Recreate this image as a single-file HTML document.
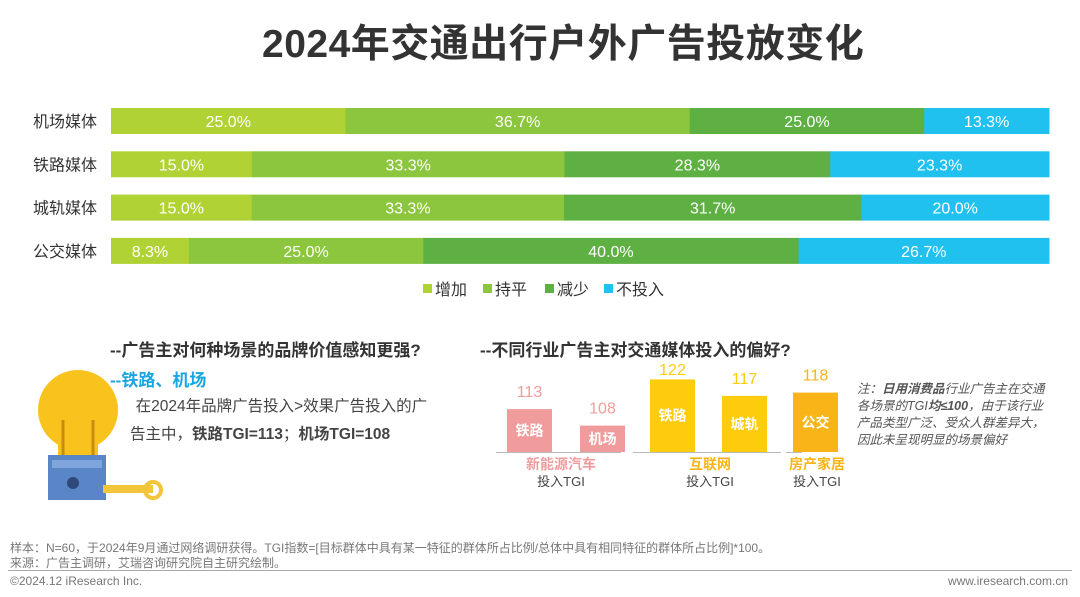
<!DOCTYPE html>
<html><head><meta charset="utf-8"><style>
body{margin:0;width:1080px;height:597px;background:#fff;font-family:"Liberation Sans","Noto Sans CJK SC",sans-serif;position:relative;overflow:hidden}
.a{position:absolute;white-space:nowrap}
</style></head><body>
<div class="a" style="left:262px;top:13px;font-size:39px;font-weight:bold;color:#333;letter-spacing:0.5px">2024年交通出行户外广告投放变化</div>
<svg id="main" class="a" style="left:0;top:0" width="1080" height="310"></svg>
<svg id="tgi" class="a" style="left:0;top:0" width="1080" height="597"></svg>
<div class="a" style="left:110px;top:336px;font-size:17px;font-weight:bold;color:#333">--广告主对何种场景的品牌价值感知更强?</div>
<div class="a" style="left:110px;top:366px;font-size:17px;font-weight:bold;color:#1aa6e0">--铁路、机场</div>
<div class="a" style="left:113px;top:393px;font-size:15.5px;color:#444;line-height:28px">•&nbsp;&nbsp;&nbsp;&nbsp;在2024年品牌广告投入&gt;效果广告投入的广<br><span style="padding-left:17px">告主中，<b>铁路TGI=113</b>；<b>机场TGI=108</b></span></div>
<div class="a" style="left:480px;top:336px;font-size:17px;font-weight:bold;color:#333">--不同行业广告主对交通媒体投入的偏好?</div>
<div class="a" style="left:857px;top:381px;font-size:12.5px;font-style:italic;color:#555;line-height:17px">注：<b>日用消费品</b>行业广告主在交通<br>各场景的TGI<b>均≤100</b>，由于该行业<br>产品类型广泛、受众人群差异大，<br>因此未呈现明显的场景偏好</div>
<svg class="a" style="left:18px;top:360px" width="160" height="150">
<circle cx="60" cy="50" r="40" fill="#f7c31c"/><rect x="40" y="75" width="40" height="40" fill="#f7c31c"/>
<path d="M45 95 V60 M75 95 V60" stroke="#c98b12" stroke-width="3" fill="none"/>
<rect x="30" y="95" width="58" height="45" fill="#5a86c7"/><rect x="34" y="100" width="50" height="8" fill="#7fa6dc"/>
<circle cx="55" cy="123" r="6" fill="#2d4a7a"/>
<rect x="85" y="125" width="50" height="8" fill="#f3c53a"/><circle cx="135" cy="130" r="8" fill="none" stroke="#f3c53a" stroke-width="4"/>
</svg>
<div class="a" style="left:10px;top:541px;font-size:12px;color:#777;line-height:15px">样本：N=60，于2024年9月通过网络调研获得。TGI指数=[目标群体中具有某一特征的群体所占比例/总体中具有相同特征的群体所占比例]*100。<br>来源：广告主调研，艾瑞咨询研究院自主研究绘制。</div>
<div class="a" style="left:8px;top:570px;width:1064px;border-top:1px solid #aaa"></div>
<div class="a" style="left:10px;top:574px;font-size:12px;color:#777">©2024.12 iResearch Inc.</div>
<div class="a" style="right:12px;top:574px;font-size:12px;color:#777">www.iresearch.com.cn</div>
<script>
const categories=["机场媒体","铁路媒体","城轨媒体","公交媒体"];
const seriesNames=["增加","持平","减少","不投入"];
const sIncrease=[25.0,15.0,15.0,8.3];
const sFlat=[36.7,33.3,33.3,25.0];
const sDecrease=[25.0,28.3,31.7,40.0];
const sNone=[13.3,23.3,20.0,26.7];
const tgiLabels=["铁路","机场","铁路","城轨","公交"];
const tgiValues=[113,108,122,117,118];
const NS="http://www.w3.org/2000/svg";
function mk(p,t,a){const e=document.createElementNS(NS,t);for(const k in a)e.setAttribute(k,a[k]);p.appendChild(e);return e;}
const svg=document.getElementById('main');
const colors=["#b1d234","#8cc63e","#5fb043","#21c1ef"];
const x0=111,W=938;
const xs=v=>v/100*W;
const rowY=i=>108+i*43.3;
const series=[sIncrease,sFlat,sDecrease,sNone];
categories.forEach((c,i)=>{
 const t=mk(svg,'text',{x:97,y:rowY(i)+19,'text-anchor':'end','font-size':16,fill:'#333'});t.textContent=c;
 
 
 let tot=series.reduce((s,a)=>s+a[i],0),acc=0;
 series.forEach((s,j)=>{
  const v=s[i]/tot*100;
  const r=mk(svg,'rect',{x:x0+xs(acc),y:rowY(i),width:xs(v)+0.5,height:26,fill:colors[j]});
  
  
  const l=mk(svg,'text',{x:x0+xs(acc+v/2),y:rowY(i)+19,'text-anchor':'middle','font-size':16,fill:'#fff'});
  l.textContent=s[i].toFixed(1)+'%';
  
  
  acc+=v;
 });
});
const lx=[423,483,545,604];
seriesNames.forEach((n,j)=>{
 const g=mk(svg,'g',{});
 
 
 mk(g,'rect',{x:lx[j],y:284,width:9,height:9,fill:colors[j]});
 const t=mk(g,'text',{x:lx[j]+12,y:295,'font-size':16,fill:'#333'});t.textContent=n;
});
const tg=document.getElementById('tgi');
const base=452;
const bx=[507,580,650,722,793];
const bc=["#f19c9c","#f19c9c","#fdcc0d","#fdcc0d","#f9b418"];
const hy=v=>(v-100)*3.3;
tgiValues.forEach((v,i)=>{
 const h=hy(v);
 const r=mk(tg,'rect',{x:bx[i],y:base-h,width:45,height:h,fill:bc[i]});
 
 
 const ty=Math.max(base-h-12,375);
 const t=mk(tg,'text',{x:bx[i]+22.5,y:ty,'text-anchor':'middle','font-size':16,fill:bc[i]});t.textContent=v;
 
 
 const l=mk(tg,'text',{x:bx[i]+22.5,y:base-h/2+5,'text-anchor':'middle','font-size':14,'font-weight':'bold',fill:'#fff'});l.textContent=tgiLabels[i];
 
 
});
[[496,621],[633,781],[786,802]].forEach(s=>mk(tg,'line',{x1:s[0],x2:s[1],y1:base+0.5,y2:base+0.5,stroke:'#bbb'}));
const groups=[["新能源汽车",561,"#f19c9c"],["互联网",710,"#f9b418"],["房产家居",817,"#f9b418"]];
groups.forEach(g=>{
 const t=mk(tg,'text',{x:g[1],y:469,'text-anchor':'middle','font-size':14,'font-weight':'bold',fill:g[2]});t.textContent=g[0];
 
 
 const u=mk(tg,'text',{x:g[1],y:486,'text-anchor':'middle','font-size':13,fill:'#444'});u.textContent='投入TGI';
 
 
});
</script>
</body></html>
